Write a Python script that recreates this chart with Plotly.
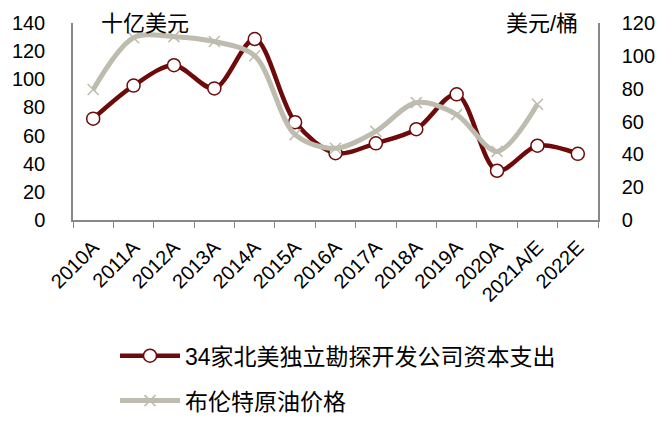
import plotly.graph_objects as go

categories = ["2010A", "2011A", "2012A", "2013A", "2014A", "2015A", "2016A",
              "2017A", "2018A", "2019A", "2020A", "2021A/E", "2022E"]
capex = [72, 95.5, 110, 93.5, 128.6, 69.5, 47.5, 54.5, 64.5, 89.3, 35, 52.8, 47]
brent = [79.5, 111, 111.7, 108.7, 100, 52, 43.7, 54, 71.5, 64.2, 41.8, 70.5]
capex_name = "34家北美独立勘探开发公司资本支出"
brent_name = "布伦特原油价格"

FONT = "Liberation Sans, Arial, Noto Sans CJK SC"
RED = "#6E0A0A"
GRAY = "#BDBCAE"

fig = go.Figure()
fig.add_trace(go.Scatter(
    x=categories, y=capex, name=capex_name, mode="lines+markers",
    legendgroup="a",
    line=dict(color=RED, width=4.5, shape="spline", smoothing=0.9),
    marker=dict(symbol="circle", size=13, color="white",
                line=dict(color=RED, width=1.5)),
))
fig.add_trace(go.Scatter(
    x=categories[:len(brent)], y=brent, name=brent_name, mode="lines+markers",
    yaxis="y2", legendgroup="b",
    line=dict(color=GRAY, width=5, shape="spline", smoothing=0.9),
    marker=dict(symbol="x-thin", size=11, color=GRAY,
                line=dict(color=GRAY, width=1.5)),
))

fig.update_layout(
    width=671, height=423,
    margin=dict(l=73, r=73, t=23, b=203, autoexpand=False),
    paper_bgcolor="white", plot_bgcolor="white",
    font=dict(family=FONT, size=20, color="black"),
    showlegend=True,
    legend=dict(x=0.08, y=-0.58, xanchor="left", yanchor="top",
                font=dict(size=23), tracegroupgap=12, itemwidth=60),
    xaxis=dict(
        type="category", showline=True, linecolor="#888888", linewidth=1.5,
        ticks="outside", tickson="boundaries", ticklen=6, tickcolor="#888888",
        tickangle=-45, tickfont=dict(size=20), showgrid=False,
        ticklabelstandoff=6, range=[-0.5, 12.5], automargin=False,
    ),
    yaxis=dict(
        range=[0, 140], dtick=20, showline=True, linecolor="#888888",
        linewidth=1.5, showgrid=False, zeroline=False, ticks="",
        ticklabelstandoff=22, tickfont=dict(size=20), automargin=False,
    ),
    yaxis2=dict(
        range=[0, 120], dtick=20, overlaying="y", side="right",
        showline=True, linecolor="#888888", linewidth=1.5, showgrid=False,
        zeroline=False, ticks="", ticklabelstandoff=18, tickfont=dict(size=20),
        automargin=False,
    ),
    annotations=[
        dict(text="十亿美元", xref="paper", yref="paper", x=0.05, y=1.0,
             xanchor="left", yanchor="middle", showarrow=False,
             font=dict(size=22)),
        dict(text="美元/桶", xref="paper", yref="paper", x=0.965, y=1.0,
             xanchor="right", yanchor="middle", showarrow=False,
             font=dict(size=22)),
    ],
)

fig.write_html("out.html")
